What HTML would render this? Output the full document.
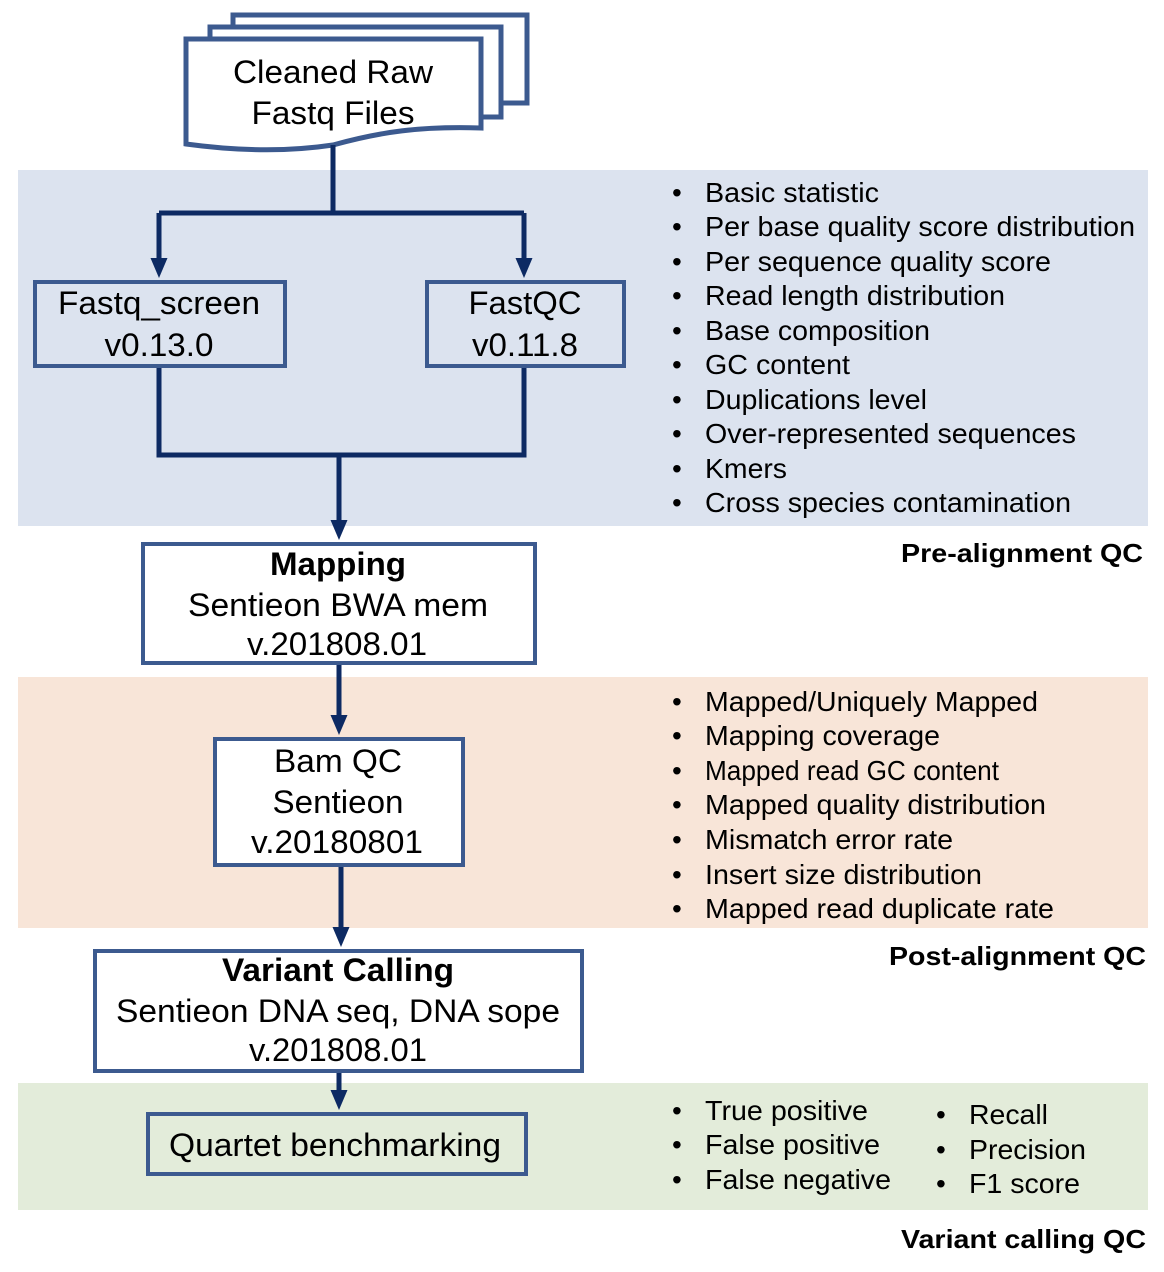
<!DOCTYPE html>
<html><head><meta charset="utf-8"><style>
html,body{margin:0;padding:0;background:#fff}
svg{display:block}
text{font-family:"Liberation Sans",Arial,Helvetica,sans-serif;fill:#000}
.b{font-size:32px;text-anchor:middle}
.l{font-size:28px}
.h{font-size:26px;font-weight:bold;text-anchor:end}
</style></head><body>
<svg width="1164" height="1272" viewBox="0 0 1164 1272" xmlns="http://www.w3.org/2000/svg">
<defs><marker id="a" markerWidth="4" markerHeight="4" refX="2" refY="2" orient="auto" markerUnits="strokeWidth"><path d="M0,0.3 L4,2 L0,3.7 z" fill="#0d2a63"/></marker></defs>
<rect x="18" y="170" width="1130" height="356" fill="#dce3ef"/>
<rect x="18" y="677" width="1130" height="251" fill="#f8e5d8"/>
<rect x="18" y="1083" width="1130" height="127" fill="#e3ecda"/>

<g fill="#fff" stroke="#3c5a8f" stroke-width="5">
<rect x="233" y="15" width="294" height="88"/>
<rect x="210" y="27" width="291" height="90"/>
<path d="M186,39 H481 V128 C420,126 380,132 333,145 C280,153 230,150 186,144 Z"/>
</g>
<text class="b" x="333" y="83" textLength="200" lengthAdjust="spacingAndGlyphs">Cleaned Raw</text>
<text class="b" x="333" y="124" textLength="163" lengthAdjust="spacingAndGlyphs">Fastq Files</text>

<g fill="none" stroke="#0d2a63" stroke-width="5">
<path d="M333,145 V213"/>
<path d="M159,213 H524"/>
<path d="M159,213 V268" marker-end="url(#a)"/>
<path d="M524,213 V268" marker-end="url(#a)"/>
<path d="M159,366 V455 H524 V366"/>
<path d="M339,455 V530" marker-end="url(#a)"/>
<path d="M339,663 V725" marker-end="url(#a)"/>
<path d="M341,865 V937" marker-end="url(#a)"/>
<path d="M339,1071 V1100" marker-end="url(#a)"/>
</g>

<g fill="#fff" stroke="#3c5a8f" stroke-width="4">
<rect x="35" y="282" width="250" height="84" fill="none"/>
<rect x="427" y="282" width="197" height="84" fill="none"/>
<rect x="143" y="544" width="392" height="119"/>
<rect x="215" y="739" width="248" height="126"/>
<rect x="95" y="951" width="487" height="120"/>
<rect x="148" y="1114" width="378" height="60" fill="none"/>
</g>

<text class="b" x="159" y="314" textLength="202" lengthAdjust="spacingAndGlyphs">Fastq_screen</text>
<text class="b" x="159" y="356" textLength="109" lengthAdjust="spacingAndGlyphs">v0.13.0</text>
<text class="b" x="525" y="314" textLength="113" lengthAdjust="spacingAndGlyphs">FastQC</text>
<text class="b" x="525" y="356" textLength="106" lengthAdjust="spacingAndGlyphs">v0.11.8</text>
<text class="b" x="338" y="575" font-weight="bold" textLength="136" lengthAdjust="spacingAndGlyphs">Mapping</text>
<text class="b" x="338" y="616" textLength="300" lengthAdjust="spacingAndGlyphs">Sentieon BWA mem</text>
<text class="b" x="337" y="655" textLength="180" lengthAdjust="spacingAndGlyphs">v.201808.01</text>
<text class="b" x="338" y="772" textLength="128" lengthAdjust="spacingAndGlyphs">Bam QC</text>
<text class="b" x="338" y="813" textLength="131" lengthAdjust="spacingAndGlyphs">Sentieon</text>
<text class="b" x="337" y="853" textLength="172" lengthAdjust="spacingAndGlyphs">v.20180801</text>
<text class="b" x="338" y="981" font-weight="bold" textLength="232" lengthAdjust="spacingAndGlyphs">Variant Calling</text>
<text class="b" x="338" y="1022" textLength="444" lengthAdjust="spacingAndGlyphs">Sentieon DNA seq, DNA sope</text>
<text class="b" x="338" y="1061" textLength="178" lengthAdjust="spacingAndGlyphs">v.201808.01</text>
<text class="b" x="335" y="1156" textLength="332" lengthAdjust="spacingAndGlyphs">Quartet benchmarking</text>

<g>
<text class="l" x="672" y="202">•</text><text class="l" x="705" y="202" textLength="174" lengthAdjust="spacingAndGlyphs">Basic statistic</text>
<text class="l" x="672" y="236">•</text><text class="l" x="705" y="236" textLength="430" lengthAdjust="spacingAndGlyphs">Per base quality score distribution</text>
<text class="l" x="672" y="271">•</text><text class="l" x="705" y="271" textLength="346" lengthAdjust="spacingAndGlyphs">Per sequence quality score</text>
<text class="l" x="672" y="305">•</text><text class="l" x="705" y="305" textLength="300" lengthAdjust="spacingAndGlyphs">Read length distribution</text>
<text class="l" x="672" y="340">•</text><text class="l" x="705" y="340" textLength="225" lengthAdjust="spacingAndGlyphs">Base composition</text>
<text class="l" x="672" y="374">•</text><text class="l" x="705" y="374" textLength="145" lengthAdjust="spacingAndGlyphs">GC content</text>
<text class="l" x="672" y="409">•</text><text class="l" x="705" y="409" textLength="222" lengthAdjust="spacingAndGlyphs">Duplications level</text>
<text class="l" x="672" y="443">•</text><text class="l" x="705" y="443" textLength="371" lengthAdjust="spacingAndGlyphs">Over-represented sequences</text>
<text class="l" x="672" y="478">•</text><text class="l" x="705" y="478" textLength="82" lengthAdjust="spacingAndGlyphs">Kmers</text>
<text class="l" x="672" y="512">•</text><text class="l" x="705" y="512" textLength="366" lengthAdjust="spacingAndGlyphs">Cross species contamination</text>

<text class="l" x="672" y="711">•</text><text class="l" x="705" y="711" textLength="333" lengthAdjust="spacingAndGlyphs">Mapped/Uniquely Mapped</text>
<text class="l" x="672" y="745">•</text><text class="l" x="705" y="745" textLength="235" lengthAdjust="spacingAndGlyphs">Mapping coverage</text>
<text class="l" x="672" y="780">•</text><text class="l" x="705" y="780" textLength="294" lengthAdjust="spacingAndGlyphs">Mapped read GC content</text>
<text class="l" x="672" y="814">•</text><text class="l" x="705" y="814" textLength="341" lengthAdjust="spacingAndGlyphs">Mapped quality distribution</text>
<text class="l" x="672" y="849">•</text><text class="l" x="705" y="849" textLength="248" lengthAdjust="spacingAndGlyphs">Mismatch error rate</text>
<text class="l" x="672" y="884">•</text><text class="l" x="705" y="884" textLength="277" lengthAdjust="spacingAndGlyphs">Insert size distribution</text>
<text class="l" x="672" y="918">•</text><text class="l" x="705" y="918" textLength="349" lengthAdjust="spacingAndGlyphs">Mapped read duplicate rate</text>

<text class="l" x="672" y="1120">•</text><text class="l" x="705" y="1120" textLength="163" lengthAdjust="spacingAndGlyphs">True positive</text>
<text class="l" x="672" y="1154">•</text><text class="l" x="705" y="1154" textLength="175" lengthAdjust="spacingAndGlyphs">False positive</text>
<text class="l" x="672" y="1189">•</text><text class="l" x="705" y="1189" textLength="186" lengthAdjust="spacingAndGlyphs">False negative</text>
<text class="l" x="936" y="1124">•</text><text class="l" x="969" y="1124" textLength="79" lengthAdjust="spacingAndGlyphs">Recall</text>
<text class="l" x="936" y="1159">•</text><text class="l" x="969" y="1159" textLength="117" lengthAdjust="spacingAndGlyphs">Precision</text>
<text class="l" x="936" y="1193">•</text><text class="l" x="969" y="1193" textLength="111" lengthAdjust="spacingAndGlyphs">F1 score</text>
</g>

<text class="h" x="1143" y="562" textLength="242" lengthAdjust="spacingAndGlyphs">Pre-alignment QC</text>
<text class="h" x="1146" y="965" textLength="257" lengthAdjust="spacingAndGlyphs">Post-alignment QC</text>
<text class="h" x="1146" y="1248" textLength="245" lengthAdjust="spacingAndGlyphs">Variant calling QC</text>
</svg>
</body></html>
